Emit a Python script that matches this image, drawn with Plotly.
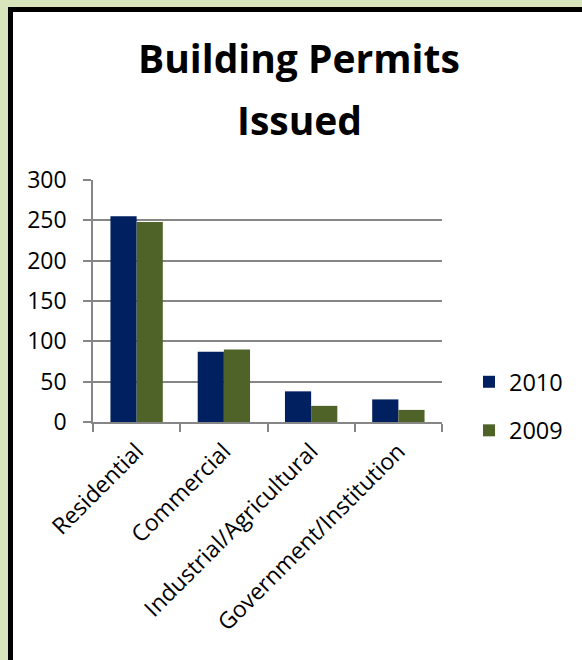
import plotly.graph_objects as go

categories = ["Residential", "Commercial", "Industrial/Agricultural", "Government/Institution"]
permits_2010 = [255, 87, 38, 28]
permits_2009 = [248, 90, 20, 15]
y_ticks = [0, 50, 100, 150, 200, 250, 300]
title_lines = ["Building Permits", "Issued"]

W, H = 582, 660
L, R, T, B = 93, 140, 180, 238
plot_w = W - L - R
plot_h = H - T - B


def px_x(p):
    return (p - L) / plot_w


def px_y(p):
    return (H - B - p) / plot_h


FONT = "Open Sans"
GRID = "#868686"

fig = go.Figure()
fig.add_trace(go.Bar(name="2010", x=categories, y=permits_2010,
                     marker=dict(color="#002060", line=dict(width=0)),
                     legendgroup="a"))
fig.add_trace(go.Bar(name="2009", x=categories, y=permits_2009,
                     marker=dict(color="#4F6228", line=dict(width=0)),
                     legendgroup="b"))

# white panel with a heavy black frame on the green page
fig.add_shape(type="rect", xref="paper", yref="paper",
              x0=px_x(10.5), x1=px_x(W + 40), y0=px_y(H + 40), y1=px_y(9.5),
              fillcolor="white", line=dict(color="black", width=5), layer="below")

# two-line heading, each line placed on its own
for line, cy in zip(title_lines, [58, 120]):
    fig.add_annotation(text=f"<b>{line}</b>", xref="paper", yref="paper",
                       x=px_x(299), y=px_y(cy), xanchor="center", yanchor="middle",
                       showarrow=False, font=dict(family=FONT, size=39, color="black"))

fig.update_layout(
    width=W, height=H,
    margin=dict(l=L, r=R, t=T, b=B, pad=0),
    paper_bgcolor="#D8E4BC",
    plot_bgcolor="white",
    barmode="group",
    bargap=0.40,
    bargroupgap=0,
    font=dict(family=FONT, color="black", size=23),
    legend=dict(x=px_x(469), xanchor="left", y=px_y(360), yanchor="top",
                font=dict(family=FONT, size=23.5), tracegroupgap=15,
                traceorder="grouped", bgcolor="rgba(0,0,0,0)"),
    showlegend=True,
)
fig.update_xaxes(showline=True, linecolor=GRID, linewidth=1.5, ticks="outside",
                 tickson="boundaries", ticklen=8, tickcolor=GRID, tickwidth=1.5,
                 tickangle=-45, showgrid=False, tickfont=dict(size=23),
                 ticklabelstandoff=5)
fig.update_yaxes(range=[0, 300], tickvals=y_ticks, showline=True, linecolor=GRID,
                 linewidth=1.5, ticks="outside", ticklen=8, tickcolor=GRID, tickwidth=1.5,
                 showgrid=True, gridcolor=GRID, gridwidth=1.5, zeroline=False,
                 tickfont=dict(size=23), ticklabelstandoff=12)

fig.write_html("out.html")
